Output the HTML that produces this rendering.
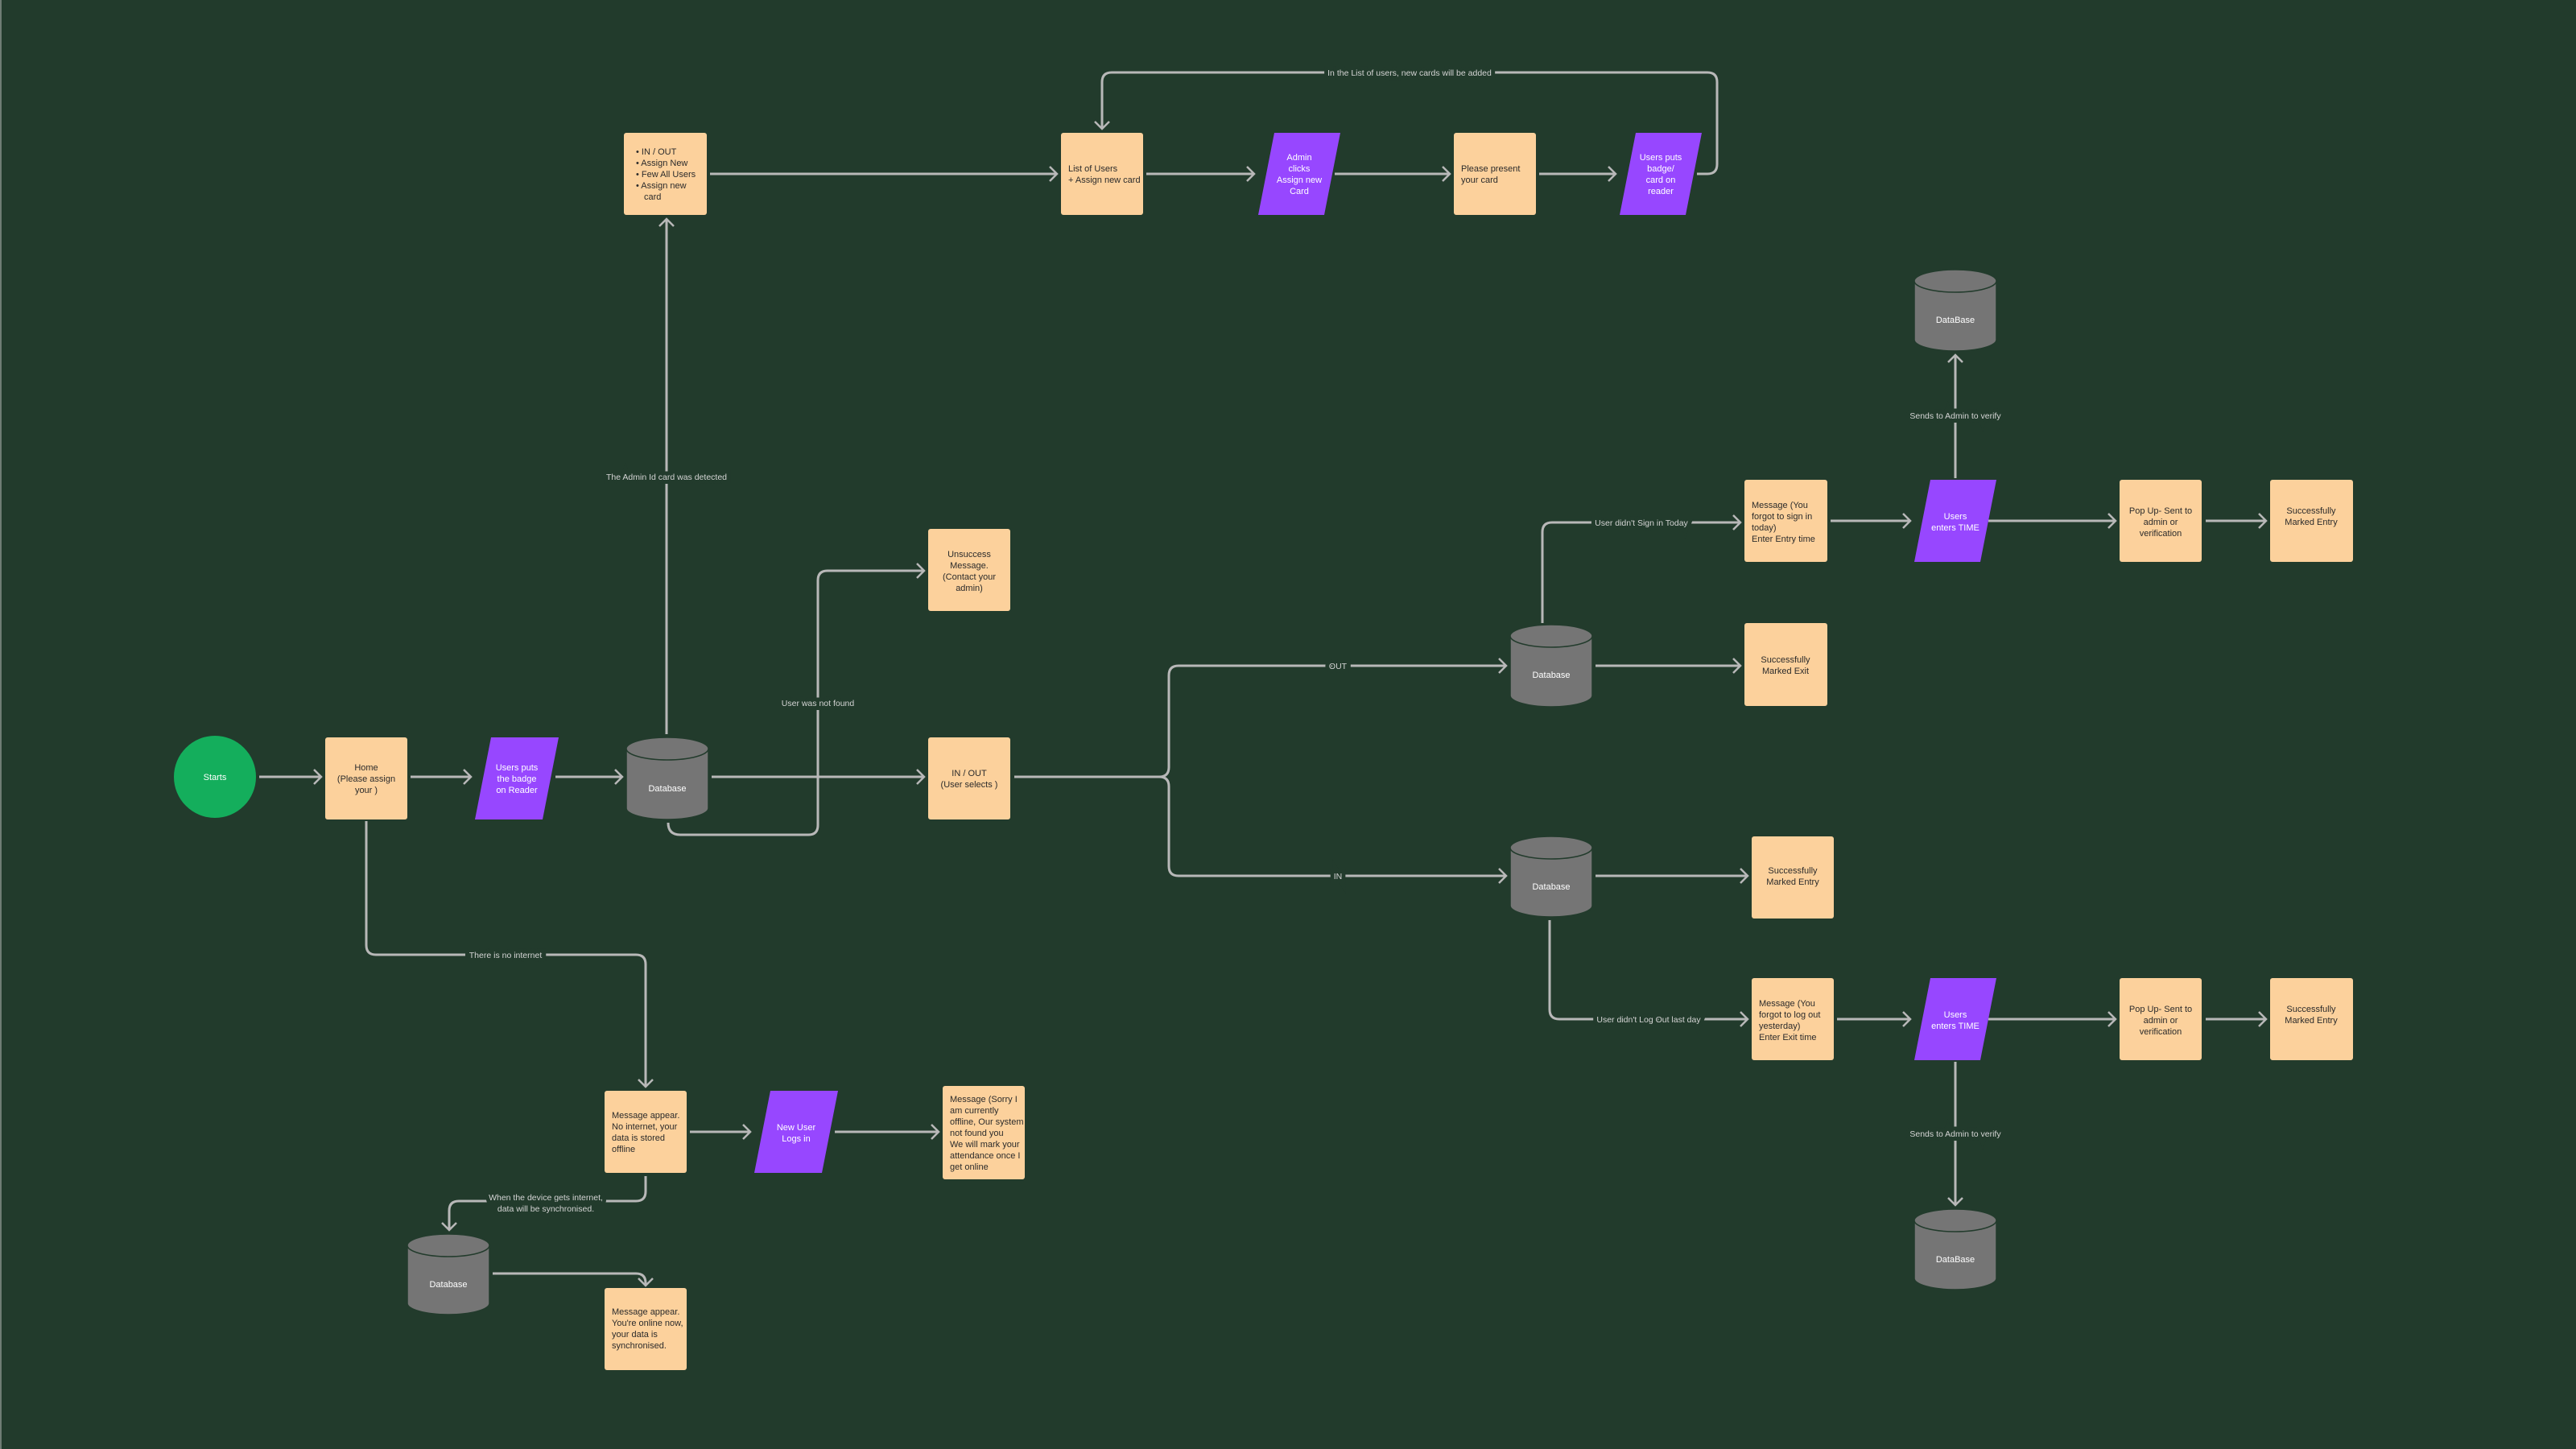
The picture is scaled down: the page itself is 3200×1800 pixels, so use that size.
<!DOCTYPE html>
<html><head><meta charset="utf-8"><style>
html,body{margin:0;padding:0;background:#223b2c;}
svg{display:block;}
text{font-family:"Liberation Sans",sans-serif;}
.b{font-size:11px;fill:#2b2b2b;}
.w{font-size:11px;fill:#ffffff;}
.l{font-size:10.5px;fill:#d4d4d4;text-anchor:middle;paint-order:stroke;stroke:#223b2c;stroke-width:10px;}
.c{text-anchor:middle;}
.ln{fill:none;stroke:#b8b8b8;stroke-width:3;}
</style></head><body>
<svg width="3200" height="1800" viewBox="0 0 3200 1800" xmlns="http://www.w3.org/2000/svg">
<defs>
<marker id="a" markerUnits="userSpaceOnUse" markerWidth="20" markerHeight="24" refX="10" refY="10" orient="auto" viewBox="0 0 20 20">
<path d="M2,1 L11,10 L2,19" fill="none" stroke="#b8b8b8" stroke-width="2.5"/>
</marker>
</defs>
<rect width="3200" height="1800" fill="#223b2c"/>
<rect x="0" y="0" width="2" height="1800" fill="#6f7d74"/>

<!-- connectors -->
<g class="ln" marker-end="url(#a)">
<path d="M322,965 H398"/>
<path d="M510,965 H584"/>
<path d="M690,965 H772"/>
<path d="M884,965 H1147"/>
<path d="M1260,965 H1440 Q1452,965 1452,953 V839 Q1452,827 1464,827 H1870"/>
<path d="M1260,965 H1440 Q1452,965 1452,977 V1076 Q1452,1088 1464,1088 H1870"/>
<path d="M1982,827 H2161"/>
<path d="M1916,774 V661 Q1916,649 1928,649 H2161"/>
<path d="M2274,647 H2372"/>
<path d="M2470,647 H2627"/>
<path d="M2740,647 H2814"/>
<path d="M2429,594 V442"/>
<path d="M1982,1088 H2170"/>
<path d="M1925,1143 V1254 Q1925,1266 1937,1266 H2170"/>
<path d="M2282,1266 H2372"/>
<path d="M2470,1266 H2627"/>
<path d="M2740,1266 H2814"/>
<path d="M2429,1319 V1496"/>
<path d="M882,216 H1312"/>
<path d="M1424,216 H1557"/>
<path d="M1658,216 H1800"/>
<path d="M1912,216 H2006"/>
<path d="M2108,216 H2121 Q2133,216 2133,204 V102 Q2133,90 2121,90 H1381 Q1369,90 1369,102 V159"/>
<path d="M828,912 V273"/>
<path d="M830,1022 Q830,1037 845,1037 H1004 Q1016,1037 1016,1025 V721 Q1016,709 1028,709 H1147"/>
<path d="M455,1020 V1174 Q455,1186 467,1186 H790 Q802,1186 802,1198 V1349"/>
<path d="M857,1406 H931"/>
<path d="M1037,1406 H1165"/>
<path d="M802,1461 V1480 Q802,1492 790,1492 H570 Q558,1492 558,1504 V1527"/>
<path d="M612,1582 H790 Q802,1582 802,1594 V1596"/>
</g>

<!-- labels -->
<text class="l" x="1662" y="831">OUT</text>
<text class="l" x="1662" y="1092">IN</text>
<text class="l" x="2039" y="653">User didn't Sign in Today</text>
<text class="l" x="2048" y="1270">User didn't Log Out last day</text>
<text class="l" x="2429" y="520">Sends to Admin to verify</text>
<text class="l" x="2429" y="1412">Sends to Admin to verify</text>
<text class="l" x="1751" y="94">In the List of users, new cards will be added</text>
<text class="l" x="828" y="596">The Admin Id card was detected</text>
<text class="l" x="1016" y="877">User was not found</text>
<text class="l" x="628" y="1190">There is no internet</text>
<text class="l" x="678" y="1491">When the device gets internet,</text>
<text class="l" x="678" y="1505">data will be synchronised.</text>

<!-- start -->
<circle cx="267" cy="965" r="51" fill="#14ae5c"/>
<text class="w c" x="267" y="969">Starts</text>

<!-- boxes -->
<g fill="#fcd19c">
<rect x="404" y="916" width="102" height="102" rx="3"/>
<rect x="1153" y="916" width="102" height="102" rx="3"/>
<rect x="1153" y="657" width="102" height="102" rx="3"/>
<rect x="775" y="165" width="103" height="102" rx="3"/>
<rect x="1318" y="165" width="102" height="102" rx="3"/>
<rect x="1806" y="165" width="102" height="102" rx="3"/>
<rect x="2167" y="774" width="103" height="103" rx="3"/>
<rect x="2167" y="596" width="103" height="102" rx="3"/>
<rect x="2633" y="596" width="102" height="102" rx="3"/>
<rect x="2820" y="596" width="103" height="102" rx="3"/>
<rect x="2176" y="1039" width="102" height="102" rx="3"/>
<rect x="2176" y="1215" width="102" height="102" rx="3"/>
<rect x="2633" y="1215" width="102" height="102" rx="3"/>
<rect x="2820" y="1215" width="103" height="102" rx="3"/>
<rect x="751" y="1355" width="102" height="102" rx="3"/>
<rect x="1171" y="1349" width="102" height="116" rx="3"/>
<rect x="751" y="1600" width="102" height="102" rx="3"/>
</g>

<!-- parallelograms -->
<g fill="#9747ff">
<polygon points="610,916 694,916 674,1018 590,1018"/>
<polygon points="1583,165 1665,165 1645,267 1563,267"/>
<polygon points="2032,165 2114,165 2094,267 2012,267"/>
<polygon points="2398,596 2480,596 2460,698 2378,698"/>
<polygon points="2398,1215 2480,1215 2460,1317 2378,1317"/>
<polygon points="957,1355 1041,1355 1021,1457 937,1457"/>
</g>

<!-- cylinders -->
<g fill="#757575" stroke="#223b2c" stroke-width="1.5">
<path d="M778,930 V1004 A51,14 0 0 0 880,1004 V930"/><ellipse cx="829" cy="930" rx="51" ry="14"/>
<path d="M1876,790 V864 A51,14 0 0 0 1978,864 V790"/><ellipse cx="1927" cy="790" rx="51" ry="14"/>
<path d="M1876,1053 V1125 A51,14 0 0 0 1978,1125 V1053"/><ellipse cx="1927" cy="1053" rx="51" ry="14"/>
<path d="M2378,349 V422 A51,14 0 0 0 2480,422 V349"/><ellipse cx="2429" cy="349" rx="51" ry="14"/>
<path d="M2378,1516 V1588 A51,14 0 0 0 2480,1588 V1516"/><ellipse cx="2429" cy="1516" rx="51" ry="14"/>
<path d="M506,1547 V1619 A51,14 0 0 0 608,1619 V1547"/><ellipse cx="557" cy="1547" rx="51" ry="14"/>
</g>
<g class="w c">
<text x="829" y="983">Database</text>
<text x="1927" y="842">Database</text>
<text x="1927" y="1105">Database</text>
<text x="2429" y="401">DataBase</text>
<text x="2429" y="1568">DataBase</text>
<text x="557" y="1599">Database</text>
</g>

<!-- box texts -->
<g class="b c">
<text x="455" y="957">Home</text><text x="455" y="971">(Please assign</text><text x="455" y="985">your )</text>
<text x="1204" y="964">IN / OUT</text><text x="1204" y="978">(User selects )</text>
<text x="1204" y="692">Unsuccess</text><text x="1204" y="706">Message.</text><text x="1204" y="720">(Contact your</text><text x="1204" y="734">admin)</text>
<text x="2218" y="823">Successfully</text><text x="2218" y="837">Marked Exit</text>
<text x="2684" y="638">Pop Up- Sent to</text><text x="2684" y="652">admin or</text><text x="2684" y="666">verification</text>
<text x="2871" y="638">Successfully</text><text x="2871" y="652">Marked Entry</text>
<text x="2227" y="1085">Successfully</text><text x="2227" y="1099">Marked Entry</text>
<text x="2684" y="1257">Pop Up- Sent to</text><text x="2684" y="1271">admin or</text><text x="2684" y="1285">verification</text>
<text x="2871" y="1257">Successfully</text><text x="2871" y="1271">Marked Entry</text>
</g>
<g class="b">
<text x="790" y="192">•  IN / OUT</text><text x="790" y="206">•  Assign New</text><text x="790" y="220">•  Few All Users</text><text x="790" y="234">•  Assign new</text><text x="800" y="248">card</text>
<text x="1327" y="213">List of Users</text><text x="1327" y="227">+ Assign new card</text>
<text x="1815" y="213">Please present</text><text x="1815" y="227">your card</text>
<text x="2176" y="631">Message (You</text><text x="2176" y="645">forgot to sign in</text><text x="2176" y="659">today)</text><text x="2176" y="673">Enter Entry time</text>
<text x="2185" y="1250">Message (You</text><text x="2185" y="1264">forgot to log  out</text><text x="2185" y="1278">yesterday)</text><text x="2185" y="1292">Enter Exit time</text>
<text x="760" y="1389">Message appear.</text><text x="760" y="1403">No internet, your</text><text x="760" y="1417">data is stored</text><text x="760" y="1431">offline</text>
<text x="1180" y="1369">Message (Sorry I</text><text x="1180" y="1383">am currently</text><text x="1180" y="1397">offline, Our system</text><text x="1180" y="1411">not found you</text><text x="1180" y="1425">We will mark your</text><text x="1180" y="1439">attendance once I</text><text x="1180" y="1453">get online</text>
<text x="760" y="1633">Message appear.</text><text x="760" y="1647">You're online now,</text><text x="760" y="1661">your data is</text><text x="760" y="1675">synchronised.</text>
</g>
<g class="w c">
<text x="642" y="957">Users puts</text><text x="642" y="971">the badge</text><text x="642" y="985">on Reader</text>
<text x="1614" y="199">Admin</text><text x="1614" y="213">clicks</text><text x="1614" y="227">Assign new</text><text x="1614" y="241">Card</text>
<text x="2063" y="199">Users puts</text><text x="2063" y="213">badge/</text><text x="2063" y="227">card on</text><text x="2063" y="241">reader</text>
<text x="2429" y="645">Users</text><text x="2429" y="659">enters TIME</text>
<text x="2429" y="1264">Users</text><text x="2429" y="1278">enters TIME</text>
<text x="989" y="1404">New User</text><text x="989" y="1418">Logs in</text>
</g>
</svg>
</body></html>
